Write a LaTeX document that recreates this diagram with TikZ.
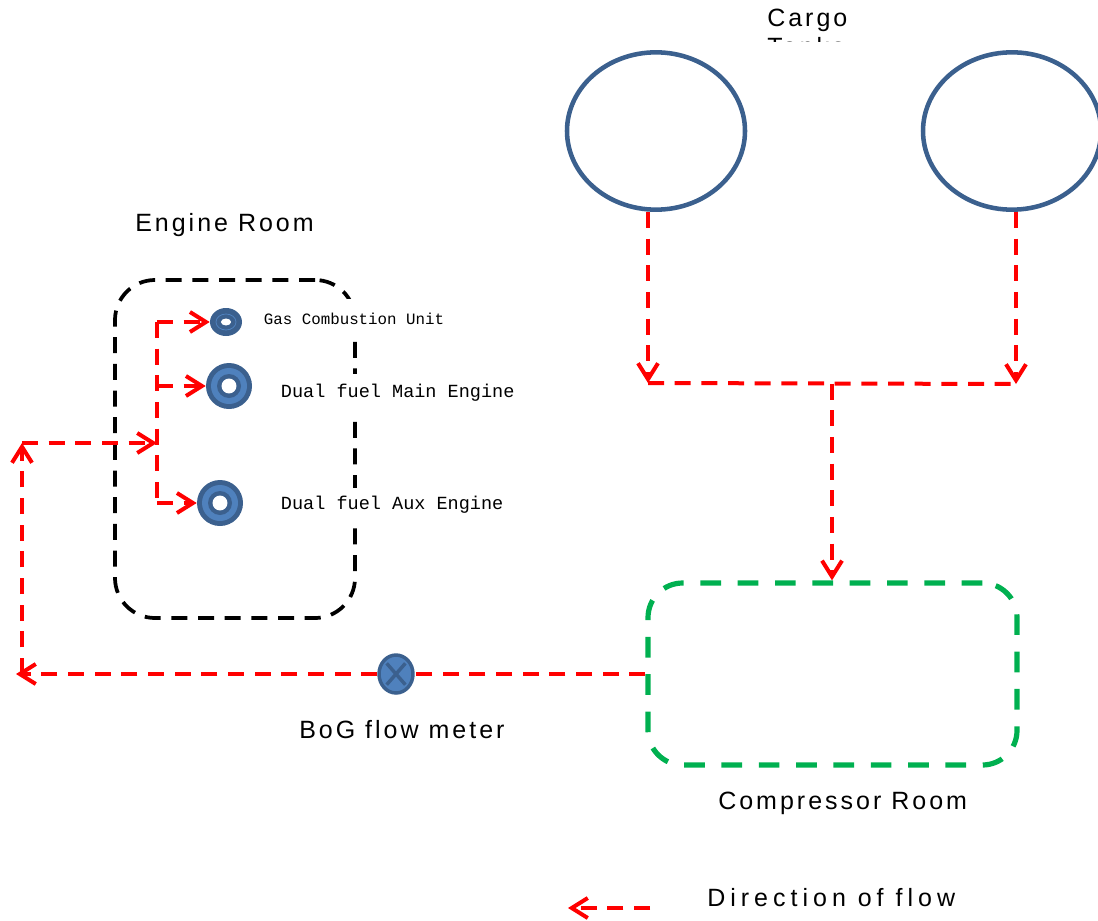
\documentclass[tikz,border=0pt]{standalone}
\usepackage{fontspec}
\setmainfont{Liberation Sans}
\newfontfamily\labelfont[LetterSpace=12]{Liberation Sans}
\newfontfamily\tagfont{Liberation Mono}
\usetikzlibrary{arrows.meta,shapes.geometric}

\definecolor{tankblue}{RGB}{59,96,142}
\definecolor{ringlight}{RGB}{79,129,189}
\definecolor{flowred}{RGB}{255,0,0}
\definecolor{roomgreen}{RGB}{0,176,80}

\begin{document}
\begin{tikzpicture}[x=0.75pt,y=-0.75pt,
  flow/.style={draw=flowred, line width=3pt, dash pattern=on 12pt off 8pt},
  flowarrow/.style={flow, -{Straight Barb[length=12pt,width=15pt]}},
  tank/.style={ellipse, draw=tankblue, line width=3.4pt, minimum width=133.5pt,
    minimum height=118pt, inner sep=0pt},
  engineroom/.style={draw=black, line width=2.8pt, dash pattern=on 12pt off 8pt,
    rounded corners=30pt, minimum width=180pt, minimum height=253.5pt},
  comproom/.style={draw=roomgreen, line width=3.9pt, dash pattern=on 15.5pt off 12.5pt,
    rounded corners=26pt, minimum width=276.75pt, minimum height=136.5pt},
  engine/.style={circle, fill=tankblue, minimum size=34.5pt, inner sep=0pt,
    path picture={
      \fill[ringlight] (path picture bounding box.center) circle[radius=13.5pt];
      \fill[tankblue] (path picture bounding box.center) circle[radius=9pt];
      \fill[white] (path picture bounding box.center) circle[radius=5.6pt];}},
  burner/.style={ellipse, fill=tankblue, minimum width=24pt, minimum height=21pt, inner sep=0pt,
    path picture={
      \draw[ringlight, line width=0.6pt] (path picture bounding box.center)
        ellipse[x radius=7.5pt, y radius=6pt];
      \fill[white] (path picture bounding box.center) ellipse[x radius=3.8pt, y radius=2.6pt];}},
  meter/.style={ellipse, fill=ringlight, draw=tankblue, line width=2.6pt,
    minimum width=25.5pt, minimum height=28.5pt, inner sep=0pt,
    path picture={
      \draw[tankblue, line width=2.6pt]
        ([shift={(-7pt,-8pt)}]path picture bounding box.center) --
        ([shift={(7pt,8pt)}]path picture bounding box.center)
        ([shift={(-7pt,8pt)}]path picture bounding box.center) --
        ([shift={(7pt,-8pt)}]path picture bounding box.center);}},
  roomlabel/.style={inner sep=0pt, anchor=base west,
    font=\labelfont\fontsize{18.75pt}{22pt}\selectfont},
  unitlabel/.style={fill=white, inner xsep=2pt, inner ysep=0pt, anchor=west,
    font=\tagfont\fontsize{13.9pt}{16pt}\selectfont},
]
\clip (0,0) rectangle (1098,920);

% cargo tanks and their caption
\node[tank] (tank1) at (656,131) {};
\node[tank] (tank2) at (1012,131) {};
\begin{scope}
  \clip (700,0) rectangle (900,42);
  \node[roomlabel] (cargo) at (767,27) {Cargo};
  \node[roomlabel] (tanks) at (767,56) {Tanks};
\end{scope}

% rooms
\node[engineroom] (er) at (235,449) {};
\node[comproom] (cr) at (832.5,674) {};

% junction points of the piping
\coordinate (j1) at (648,383);
\coordinate (j2) at (1016,384);
\coordinate (jm) at (832,383.5);
\coordinate (fmout) at (16,674);
\coordinate (corner) at (22,674);
\coordinate (up) at (22,443);
\coordinate (hub) at (157,443);
\coordinate (b1) at (157,322);
\coordinate (b2) at (157,386);
\coordinate (b3) at (157,503);
\coordinate (lgA) at (650,908);
\coordinate (lgB) at (568,908);

% consumers and the flow meter
\node[burner] (gcu) at (226,322) {};
\node[engine] (me) at (229,386) {};
\node[engine] (ae) at (220,503) {};
\node[meter] (fm) at (396,674) {};

% boil-off gas flow
\draw[flowarrow] (tank1.south -| j1) -- (j1);
\draw[flowarrow] (tank2.south -| j2) -- (j2);
\draw[flow] (j1) -- (j2);
\draw[flowarrow] (jm) -- (jm |- cr.north);
\draw[flow] (cr.west) -- (fm.east);
\draw[flowarrow] (fm.west) -- (fmout);
\draw[flowarrow] (corner) -- (up);
\draw[flowarrow] (up) -- (hub);
\draw[flow] (b1) -- (b3);
\draw[flowarrow] (b1) -- (gcu);
\draw[flowarrow] (b2) -- (me);
\draw[flowarrow] (b3) -- (ae);
\draw[flowarrow] (lgA) -- (lgB);

% labels
\node[roomlabel] (erlabel) at (135,231) {Engine Room};
\node[roomlabel] (crlabel) at (718,809) {Compressor Room};
\node[roomlabel] (fmlabel) at (299,738) {BoG flow meter};
\node[roomlabel, font=\labelfont\fontsize{18.75pt}{22pt}\addfontfeature{LetterSpace=20}]
  (lglabel) at (707,906) {Direction of flow};
\node[unitlabel, minimum height=30pt, font=\tagfont\fontsize{11.85pt}{14pt}\selectfont]
  (gculabel) at (261,319) {Gas Combustion Unit};
\node[unitlabel, minimum height=28pt] (melabel) at (278,393) {Dual fuel Main Engine};
\node[unitlabel, minimum height=25pt] (aelabel) at (278,505) {Dual fuel Aux Engine};
\end{tikzpicture}
\end{document}
